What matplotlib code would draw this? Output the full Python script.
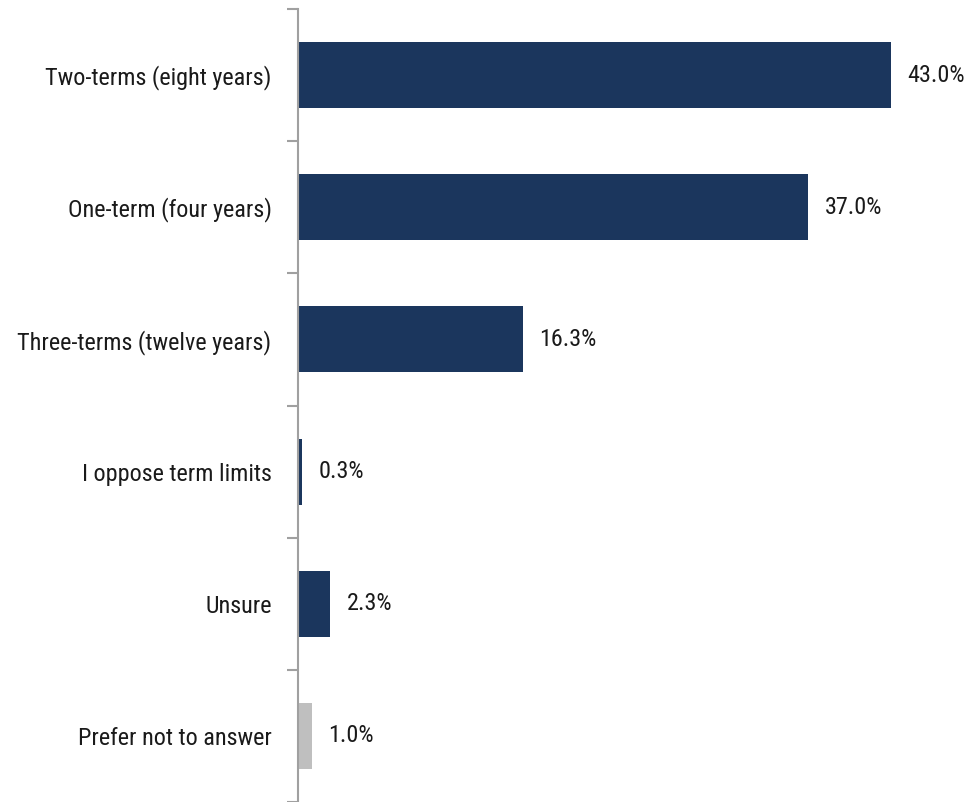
import matplotlib
matplotlib.use("Agg")
import matplotlib.pyplot as plt
from matplotlib import font_manager as fm

categories = ["Two-terms (eight years)", "One-term (four years)", "Three-terms (twelve years)",
              "I oppose term limits", "Unsure", "Prefer not to answer"]
values = [43.0, 37.0, 16.3, 0.3, 2.3, 1.0]
colors = ["#1B365D", "#1B365D", "#1B365D", "#1B365D", "#1B365D", "#BFBFBF"]
value_labels = ["43.0%", "37.0%", "16.3%", "0.3%", "2.3%", "1.0%"]

# pick the narrowest available family
entries = fm.fontManager.ttflist
names = {f.name for f in entries}
stretch = "normal"
fam = None
for cand in ["Roboto Condensed", "Liberation Sans Narrow", "Open Sans Condensed",
             "Noto Sans Condensed", "DejaVu Sans Condensed"]:
    if cand in names:
        fam = cand
        break
if fam is None:
    cond = [f for f in entries if f.name in ("Roboto", "Noto Sans", "Open Sans", "DejaVu Sans")
            and str(f.stretch) in ("condensed", "semi-condensed", "extra-condensed", "75", "87")]
    if cond:
        fam = cond[0].name
        stretch = cond[0].stretch
    else:
        fam = "Roboto" if "Roboto" in names else "DejaVu Sans"
plt.rcParams['font.family'] = [fam, "DejaVu Sans"]
plt.rcParams['font.stretch'] = stretch

W, H = 968, 802
fig = plt.figure(figsize=(W/100, H/100), dpi=100)

# size fonts so the longest label spans ~254 px like the reference
r = fig.canvas.get_renderer()
t = fig.text(0, 0, "Three-terms (twelve years)", fontsize=20)
wpx = t.get_window_extent(renderer=r).width
t.remove()
fs = 20 * 254.0 / wpx
fs = min(fs, 20)

ax = fig.add_axes([298/W, 0/H, (W-298)/W, (H-9)/H])

y = list(range(len(categories)))
ax.barh(y, values, height=0.5, color=colors, edgecolor="none")
ax.set_ylim(len(categories)-0.5, -0.5)
ax.set_xlim(0, (W-298)/(593/43.0))

for yi, v, lab in zip(y, values, value_labels):
    ax.annotate(lab, (v, yi), xytext=(12, 0), textcoords="offset points",
                va="center", ha="left", fontsize=fs, color="#1a1a1a")

ax.set_yticks([i + 0.5 for i in range(-1, len(categories))], minor=False)
ax.set_yticklabels([])
ax.set_yticks(y, minor=True)
ax.set_yticklabels(categories, minor=True, fontsize=fs, color="#1a1a1a")
ax.tick_params(axis="y", which="major", length=8, width=1.5, color="#A0A0A0")
ax.tick_params(axis="y", which="minor", length=0, pad=19)
ax.set_xticks([])
for s in ["top", "right", "bottom"]:
    ax.spines[s].set_visible(False)
ax.spines["left"].set_color("#A0A0A0")
ax.spines["left"].set_linewidth(1.5)

fig.savefig("out.png", dpi=100)
